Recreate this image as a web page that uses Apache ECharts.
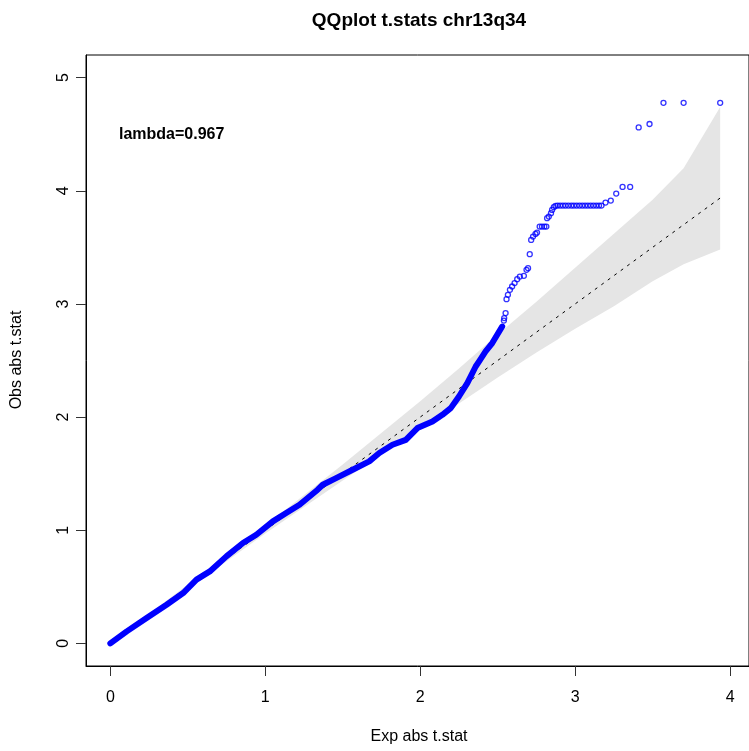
<!DOCTYPE html>
<html>
<head>
<meta charset="utf-8">
<script src="https://cdn.jsdelivr.net/npm/echarts@6/dist/echarts.min.js"></script>
<style>html,body{margin:0;padding:0;background:#fff;}#c{width:749px;height:751px;}</style>
</head>
<body>
<div id="c"></div>
<script>
// ---- data ----
var xTicks = [0, 1, 2, 3, 4];
var yTicks = [0, 1, 2, 3, 4, 5];

// dense part of the observed QQ curve (expected, observed)
var denseExp = [0.000,0.106,0.234,0.363,0.470,0.556,0.642,0.749,0.856,0.942,1.049,1.135,1.221,1.338,1.371,1.457,1.564,1.671,1.736,1.821,1.907,1.982,2.079,2.143,2.197,2.250,2.304,2.358,2.379,2.422,2.465,2.497,2.529];
var denseObs = [0.000,0.106,0.224,0.342,0.445,0.563,0.636,0.769,0.887,0.960,1.078,1.152,1.225,1.358,1.402,1.461,1.534,1.608,1.682,1.755,1.799,1.903,1.961,2.020,2.079,2.182,2.300,2.447,2.491,2.580,2.654,2.727,2.800];

// sparse tail points
var tailExp = [2.540,2.542,2.551,2.557,2.566,2.579,2.593,2.609,2.626,2.643,2.669,2.686,2.696,2.707,2.716,2.728,2.744,2.754,2.771,2.786,2.801,2.814,2.819,2.830,2.844,2.851,2.862,2.873,
  2.886,2.903,2.921,2.938,2.956,2.975,2.992,3.010,3.028,3.046,3.064,3.082,3.100,3.118,3.136,3.154,3.170,
  3.196,3.230,3.265,3.306,3.355,3.410,3.480,3.570,3.700,3.936];
var tailObs = [2.853,2.875,2.919,3.042,3.080,3.125,3.154,3.184,3.219,3.242,3.248,3.301,3.316,3.440,3.566,3.595,3.619,3.631,3.684,3.684,3.684,3.684,3.758,3.772,3.802,3.831,3.855,3.867,
  3.869,3.869,3.869,3.869,3.869,3.869,3.869,3.869,3.869,3.869,3.869,3.869,3.869,3.869,3.869,3.869,3.869,
  3.896,3.913,3.975,4.034,4.034,4.560,4.590,4.777,4.777,4.777];

// confidence band
var bandExp   = [0, 0.5, 1.0, 1.5, 2.0, 2.25, 2.5, 2.75, 3.0, 3.25, 3.5, 3.7, 3.936];
var bandUpper = [0, 0.52, 1.04, 1.58, 2.14, 2.43, 2.73, 3.02, 3.32, 3.62, 3.92, 4.20, 4.74];
var bandLower = [0, 0.48, 0.97, 1.44, 1.90, 2.12, 2.35, 2.57, 2.78, 2.98, 3.20, 3.35, 3.48];

// reference line y = x
var diagExp = [0, 3.936];
var diagObs = [0, 3.936];

var titleText = 'QQplot t.stats chr13q34';
var lambdaText = 'lambda=0.967';
var xName = 'Exp abs t.stat';
var yName = 'Obs abs t.stat';

// ---- chart ----
function pairs(a, b) { return a.map(function (v, i) { return [v, b[i]]; }); }

var FONT = '"Liberation Sans", Arial, Helvetica, sans-serif';
var chart = echarts.init(document.getElementById('c'), null, {renderer: 'canvas'});
var XMIN = -0.157, XMAX = 4.122, YMIN = -0.2, YMAX = 5.2;

chart.setOption({
  animation: false,
  backgroundColor: '#fff',
  grid: {left: 86, top: 55, width: 665, height: 611, show: true, borderColor: '#000', borderWidth: 1, backgroundColor: 'transparent'},
  xAxis: {
    type: 'value', min: XMIN, max: XMAX,
    axisLine: {show: true, onZero: false, lineStyle: {color: '#000', width: 1}},
    axisTick: {show: true, inside: false, length: 10, customValues: xTicks, lineStyle: {color: '#333', width: 1}},
    axisLabel: {customValues: xTicks, fontSize: 16, color: '#000', margin: 24, fontFamily: FONT},
    splitLine: {show: false}
  },
  yAxis: {
    type: 'value', min: YMIN, max: YMAX,
    axisLine: {show: true, onZero: false, lineStyle: {color: '#000', width: 1}},
    axisTick: {show: true, inside: false, length: 10, customValues: yTicks, lineStyle: {color: '#333', width: 1}},
    axisLabel: {customValues: yTicks, fontSize: 16, color: '#000', margin: 14, rotate: 90, fontFamily: FONT},
    splitLine: {show: false}
  },
  series: [
    {
      type: 'custom', z: 1, silent: true, clip: true,
      data: [0],
      renderItem: function (params, api) {
        var pts = [];
        for (var i = 0; i < bandExp.length; i++) pts.push(api.coord([bandExp[i], bandUpper[i]]));
        for (var j = bandExp.length - 1; j >= 0; j--) pts.push(api.coord([bandExp[j], bandLower[j]]));
        return {type: 'polygon', shape: {points: pts}, style: {fill: '#e5e5e5', stroke: null}};
      }
    },
    {
      type: 'line', z: 2, silent: true, symbol: 'none',
      data: pairs(diagExp, diagObs),
      lineStyle: {color: '#000', width: 1, type: [3, 5]}
    },
    {
      type: 'line', z: 3, silent: true, symbol: 'none', smooth: false,
      data: pairs(denseExp, denseObs),
      lineStyle: {color: '#0000ff', width: 6, cap: 'round', join: 'round'}
    },
    {
      type: 'scatter', z: 4, silent: true,
      symbol: 'circle', symbolSize: 5,
      data: pairs(tailExp, tailObs),
      itemStyle: {color: 'rgba(0,0,0,0)', borderColor: '#0000ff', borderWidth: 1.3}
    }
  ],
  graphic: [
    {type: 'text', x: 419, y: 21, style: {text: titleText, font: 'bold 19px ' + FONT, fill: '#000', textAlign: 'center', textVerticalAlign: 'middle'}},
    {type: 'text', x: 119, y: 135, style: {text: lambdaText, font: 'bold 16px ' + FONT, fill: '#000', textAlign: 'left', textVerticalAlign: 'middle'}},
    {type: 'text', x: 419, y: 737, style: {text: xName, font: '16px ' + FONT, fill: '#000', textAlign: 'center', textVerticalAlign: 'middle'}},
    {type: 'text', x: 17, y: 360, rotation: Math.PI / 2, style: {text: yName, font: '16px ' + FONT, fill: '#000', textAlign: 'center', textVerticalAlign: 'middle'}}
  ]
});
</script>
</body>
</html>
